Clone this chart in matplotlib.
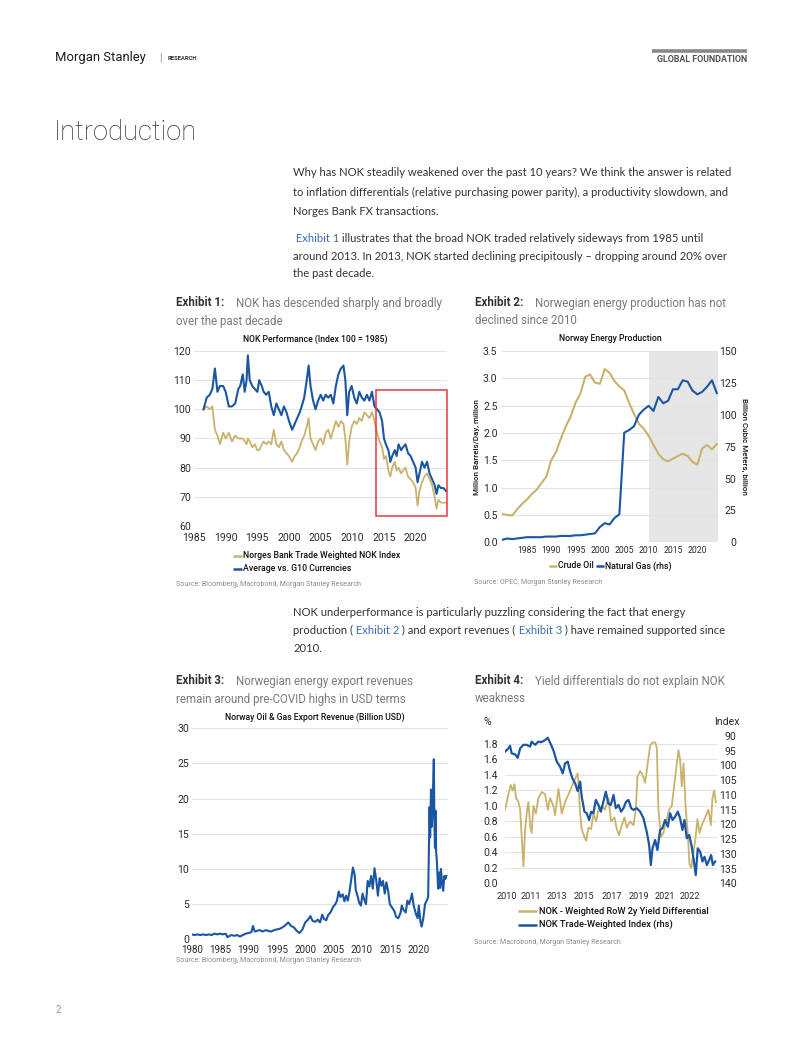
import matplotlib
matplotlib.use("Agg")
import matplotlib.pyplot as plt
from matplotlib import font_manager
from matplotlib.lines import Line2D
from matplotlib.patches import Rectangle

# ---------------- data ----------------
# Exhibit 1: NOK performance (index 100 = 1985)
ex1_years = [1986.5, 1987.0, 1987.5, 1987.9, 1988.3, 1988.7, 1989.1, 1989.6, 1990.0, 1990.5,
             1991.0, 1991.5, 1992.0, 1992.3, 1992.7, 1993.0, 1993.3, 1993.5, 1993.8, 1994.2,
             1994.6, 1995.0, 1995.3, 1995.7, 1996.0, 1996.4, 1996.8, 1997.2, 1997.6, 1998.0,
             1998.4, 1998.8, 1999.2, 1999.6, 2000.0, 2000.5, 2000.9, 2001.3, 2001.7, 2002.0,
             2002.4, 2002.8, 2003.1, 2003.4, 2003.8, 2004.2, 2004.6, 2005.0, 2005.4, 2005.8,
             2006.2, 2006.6, 2007.0, 2007.4, 2007.8, 2008.2, 2008.6, 2008.9, 2009.2, 2009.5,
             2009.9, 2010.3, 2010.7, 2011.1, 2011.5, 2011.9, 2012.3, 2012.7, 2013.1, 2013.5,
             2013.9, 2014.3, 2014.7, 2015.0, 2015.3, 2015.7, 2016.0, 2016.3, 2016.7, 2017.0,
             2017.3, 2017.7, 2018.0, 2018.4, 2018.8, 2019.2, 2019.6, 2020.0, 2020.3, 2020.6,
             2021.0, 2021.4, 2021.8, 2022.2, 2022.6, 2023.0, 2023.3, 2023.6, 2024.0, 2024.4,
             2024.8]
ex1_twi = [100, 101, 100, 101, 93, 91, 88, 92, 90, 92,
           89, 91, 90, 90, 90, 89, 88, 90, 89, 87,
           88, 86, 86, 88, 89, 88, 89, 88, 93, 88,
           87, 89, 86, 85, 84, 82, 84, 85, 87, 89,
           91, 94, 97, 90, 88, 86, 89, 90, 88, 92,
           93, 90, 93, 96, 94, 96, 95, 90, 81, 89,
           94, 96, 95, 97, 96, 99, 98, 97, 99, 96,
           92, 89, 87, 83, 84, 79, 77, 80, 82, 79,
           80, 78, 79, 80, 77, 76, 75, 73, 67, 72,
           75, 77, 78, 76, 74, 70, 66, 69, 68, 68, 68]
ex1_g10 = [100, 104, 105, 107, 114, 106, 108, 108, 106, 101,
           101, 102, 107, 108, 112, 106, 110, 118.5, 110, 108,
           107, 106, 110, 108, 106, 105, 106, 101, 98, 102,
           100, 98, 101, 99, 96, 93, 95, 97, 99, 101,
           104, 110, 115, 108, 103, 100, 103, 105, 103, 105,
           104, 105, 102, 108, 112, 114, 115, 110, 98, 106,
           108, 104, 102, 106, 104, 103, 105, 103, 106, 101,
           100, 99, 96, 90, 88, 86, 82, 84, 86, 84,
           88, 86, 87, 88, 85, 84, 82, 80, 75, 78,
           82, 80, 82, 78, 76, 74, 71, 74, 73, 73, 72]
ex1_xticks = [1985, 1990, 1995, 2000, 2005, 2010, 2015, 2020]
ex1_yticks = [60, 70, 80, 90, 100, 110, 120]

# Exhibit 2: Norway energy production
ex2_years = list(range(1980, 2025))
ex2_oil = [0.52, 0.50, 0.49, 0.60, 0.70, 0.78, 0.88, 0.96, 1.08, 1.20,
           1.50, 1.65, 1.90, 2.12, 2.30, 2.55, 2.72, 3.03, 3.07, 2.92,
           2.90, 3.17, 3.10, 2.95, 2.85, 2.78, 2.55, 2.35, 2.17, 2.08,
           1.95, 1.78, 1.62, 1.52, 1.48, 1.53, 1.58, 1.62, 1.58, 1.47,
           1.42, 1.72, 1.78, 1.70, 1.80]
ex2_gas = [2, 3, 2.5, 3, 3.5, 4, 4, 4, 4, 4.5,
           4.5, 4.5, 5, 5, 5, 5.5, 5.5, 6, 6.5, 7,
           12, 15, 14, 19, 22, 86, 88, 91, 100, 104,
           107, 103, 114, 109, 111, 120, 120, 127, 126, 119,
           116, 118, 122, 127, 117]
ex2_xticks = [1985, 1990, 1995, 2000, 2005, 2010, 2015, 2020]
ex2_shade = (2010, 2024.3)

# Exhibit 3: Norway oil & gas export revenue (bn USD)
ex3_years = [1980.0, 1980.5, 1981.0, 1981.5, 1982.0, 1982.5, 1983.0, 1983.5, 1984.0, 1984.5,
             1985.0, 1985.5, 1986.0, 1986.3, 1986.7, 1987.0, 1987.5, 1988.0, 1988.5, 1989.0,
             1989.5, 1990.0, 1990.5, 1990.8, 1991.1, 1991.5, 1992.0, 1992.5, 1993.0, 1993.5,
             1994.0, 1994.5, 1995.0, 1995.5, 1996.0, 1996.5, 1997.0, 1997.5, 1998.0, 1998.5,
             1999.0, 1999.5, 2000.0, 2000.5, 2000.9, 2001.3, 2001.8, 2002.2, 2002.6, 2003.0,
             2003.3, 2003.7, 2004.0, 2004.5, 2004.9, 2005.3, 2005.6, 2005.9, 2006.2, 2006.6,
             2006.9, 2007.2, 2007.5, 2007.8, 2008.1, 2008.4, 2008.7, 2008.9, 2009.2, 2009.5,
             2009.8, 2010.1, 2010.4, 2010.7, 2011.0, 2011.3, 2011.6, 2011.9, 2012.2, 2012.5,
             2012.8, 2013.1, 2013.4, 2013.7, 2014.0, 2014.3, 2014.6, 2014.9, 2015.3, 2015.7,
             2016.0, 2016.4, 2016.8, 2017.0, 2017.3, 2017.7, 2018.0, 2018.3, 2018.6, 2018.8,
             2019.1, 2019.5, 2019.8, 2020.0, 2020.3, 2020.5, 2020.8, 2021.1, 2021.4, 2021.65,
             2021.8, 2021.9, 2022.0, 2022.15, 2022.3, 2022.45, 2022.65, 2022.75, 2022.85, 2022.95,
             2023.05, 2023.2, 2023.4, 2023.6, 2023.75, 2023.9, 2024.1, 2024.3, 2024.5, 2024.7,
             2024.85]
ex3_revenue = [0.7, 0.6, 0.7, 0.6, 0.7, 0.6, 0.7, 0.6, 0.8, 0.7,
               0.8, 0.7, 0.8, 0.3, 0.5, 0.6, 0.5, 0.6, 0.4, 0.6,
               0.8, 0.9, 1.0, 1.9, 1.1, 1.2, 1.3, 1.1, 1.3, 1.2,
               1.1, 1.3, 1.4, 1.5, 1.7, 2.0, 2.4, 1.9, 1.7, 1.2,
               0.9, 1.4, 2.4, 2.8, 3.3, 2.6, 2.5, 2.8, 2.4, 3.5,
               2.9, 2.7, 3.4, 3.9, 4.6, 5.0, 5.5, 6.8, 6.0, 6.4,
               5.4, 6.2, 5.5, 6.8, 8.5, 10.2, 9.2, 7.0, 6.2, 5.2,
               4.8, 6.5, 5.6, 5.0, 8.3, 7.5, 9.0, 7.2, 10.1, 8.5,
               6.2, 8.7, 7.6, 8.3, 6.5, 8.1, 6.9, 5.0, 4.5, 4.0,
               3.2, 3.0, 3.8, 4.8, 4.2, 3.8, 5.5, 5.0, 5.8, 6.5,
               4.8, 3.6, 3.0, 4.8, 2.5, 1.8, 3.0, 5.0, 5.5, 6.0,
               14.0, 18.8, 14.5, 21.3, 16.0, 19.5, 25.6, 17.0, 13.0, 18.3,
               12.5, 11.0, 7.2, 9.5, 7.3, 10.0, 8.0, 6.9, 9.0, 8.6,
               9.0]
ex3_xticks = [1980, 1985, 1990, 1995, 2000, 2005, 2010, 2015, 2020]

# Exhibit 4: yield differential vs NOK TWI (rhs, inverted)
ex4_yield_t = [2009.88, 2010.12, 2010.28, 2010.42, 2010.54, 2010.65, 2010.82, 2010.94, 2011.05, 2011.17,
               2011.29, 2011.43, 2011.52, 2011.64, 2011.75, 2011.87, 2012.04, 2012.22, 2012.46, 2012.69,
               2012.88, 2013.04, 2013.27, 2013.39, 2013.63, 2013.86, 2014.09, 2014.33, 2014.56, 2014.80,
               2014.98, 2015.15, 2015.26, 2015.45, 2015.57, 2015.73, 2015.92, 2016.08, 2016.27, 2016.43,
               2016.67, 2016.90, 2017.13, 2017.32, 2017.56, 2017.72, 2017.88, 2018.07, 2018.26, 2018.42,
               2018.65, 2018.89, 2019.05, 2019.17, 2019.36, 2019.52, 2019.71, 2019.89, 2020.06, 2020.22,
               2020.41, 2020.53, 2020.64, 2020.83, 2020.99, 2021.18, 2021.39, 2021.58, 2021.77, 2021.93,
               2022.05, 2022.16, 2022.28, 2022.40, 2022.56, 2022.70, 2022.82, 2022.94, 2023.10, 2023.22,
               2023.38, 2023.52, 2023.68, 2023.92, 2024.15, 2024.32, 2024.43, 2024.55, 2024.67]
ex4_yield = [0.95, 1.15, 1.27, 1.20, 1.28, 1.10, 1.05, 0.95, 0.60, 0.22,
             0.70, 0.95, 1.05, 0.75, 0.65, 1.00, 0.90, 1.10, 1.18, 1.15,
             0.95, 1.10, 1.00, 0.88, 1.22, 0.90, 1.05, 1.15, 1.25, 1.35,
             1.42, 0.90, 0.70, 0.60, 0.55, 0.72, 0.70, 0.90, 0.80, 0.95,
             1.00, 0.95, 1.10, 0.80, 0.85, 0.70, 0.62, 0.75, 0.85, 0.72,
             0.80, 0.75, 0.95, 1.38, 1.45, 1.40, 1.30, 1.55, 1.78, 1.82,
             1.82, 1.75, 0.95, 0.60, 0.65, 0.80, 0.95, 1.00, 1.30, 1.55,
             1.72, 1.60, 1.25, 1.55, 0.95, 0.65, 0.25, 0.20, 0.40, 0.55,
             0.83, 0.65, 0.75, 0.85, 0.95, 0.75, 1.10, 1.20, 1.05]
ex4_twi_t = [2009.88, 2010.12, 2010.23, 2010.35, 2010.58, 2010.77, 2010.94, 2011.17, 2011.40, 2011.64,
             2011.75, 2011.99, 2012.22, 2012.41, 2012.69, 2012.88, 2013.11, 2013.27, 2013.51, 2013.74,
             2013.93, 2014.09, 2014.28, 2014.44, 2014.61, 2014.80, 2014.98, 2015.15, 2015.26, 2015.45,
             2015.61, 2015.78, 2015.92, 2016.08, 2016.25, 2016.43, 2016.60, 2016.78, 2016.95, 2017.13,
             2017.30, 2017.49, 2017.65, 2017.84, 2018.02, 2018.19, 2018.37, 2018.54, 2018.73, 2018.89,
             2019.12, 2019.36, 2019.59, 2019.82, 2019.99, 2020.11, 2020.22, 2020.41, 2020.57, 2020.76,
             2020.92, 2021.11, 2021.30, 2021.46, 2021.63, 2021.81, 2022.00, 2022.16, 2022.33, 2022.47,
             2022.63, 2022.80, 2022.98, 2023.10, 2023.26, 2023.40, 2023.57, 2023.73, 2023.87, 2024.04,
             2024.20, 2024.34, 2024.46, 2024.62]
ex4_twi = [95.3, 94.2, 93.3, 95.9, 96.2, 97.4, 94.2, 93.0, 93.0, 93.6,
           91.9, 93.0, 91.9, 92.1, 91.4, 90.6, 93.0, 94.8, 98.7, 100.4,
           102.7, 99.3, 98.7, 101.9, 104.4, 106.1, 108.7, 105.5, 110.6, 115.7,
           116.2, 118.5, 115.7, 116.2, 111.7, 113.4, 115.7, 112.3, 108.9, 112.9,
           113.4, 110.0, 114.5, 113.4, 115.7, 114.5, 112.3, 111.7, 114.5, 115.1,
           114.5, 115.7, 117.9, 122.5, 127.0, 133.8, 128.2, 125.3, 128.7, 121.9,
           121.3, 118.5, 120.8, 116.2, 118.5, 117.4, 115.7, 117.9, 121.9, 118.5,
           124.7, 123.6, 127.6, 131.5, 137.2, 128.1, 129.3, 132.6, 131.0, 133.8,
           132.1, 130.4, 133.8, 132.6]
ex4_xtick_pos = [2010.0, 2011.71, 2013.51, 2015.38, 2017.37, 2019.24, 2021.11, 2022.87]
ex4_xtick_lab = ["2010", "2011", "2013", "2015", "2017", "2019", "2021", "2022"]

# ---------------- styling ----------------
W, H = 802, 1037
GOLD = "#C9B36C"
BLUE = "#1B56A3"
LINK = "#3C6DB4"
GRID = "#E3E3E3"
DARK = "#2B2B2B"
GREY = "#7A7A7A"

names = {f.name for f in font_manager.fontManager.ttflist}
BODY = "Lato" if "Lato" in names else "Open Sans"

plt.rcParams["font.family"] = ["Roboto", "DejaVu Sans"]

fig = plt.figure(figsize=(W / 100, H / 100), dpi=100)


def px_axes(left, top, right, bottom):
    return fig.add_axes([left / W, 1 - bottom / H, (right - left) / W, (bottom - top) / H])


def px_text(x, y, s, **kw):
    return fig.text(x / W, 1 - y / H, s, **kw)


def px_line(x0, x1, y, color, lw):
    fig.add_artist(Line2D([x0 / W, x1 / W], [1 - y / H, 1 - y / H], color=color, lw=lw,
                          solid_capstyle="butt"))


def style_axes(ax, xpad, ypad, xsize=7.6):
    for sp in ax.spines.values():
        sp.set_visible(False)
    ax.tick_params(length=0, labelsize=7.6, colors=DARK)
    ax.tick_params(axis="x", pad=xpad, labelsize=xsize)
    ax.tick_params(axis="y", pad=ypad)
    ax.grid(axis="y", color=GRID, lw=0.8)
    ax.set_axisbelow(True)
    ax.patch.set_alpha(0)


renderer = fig.canvas.get_renderer()


def rich_line(x, y, parts, size=8.1):
    for s, color in parts:
        t = px_text(x, y, s, color=color, fontsize=size, family=BODY, va="center")
        x = t.get_window_extent(renderer).x1


# ---------------- page header ----------------
px_text(55, 58, "Morgan Stanley", fontsize=9.4, color="#1a1a1a", va="center")
px_text(159, 57.5, "|", fontsize=7.5, color="#888", va="center")
px_text(168, 58.5, "RESEARCH", fontsize=4.2, weight="bold", color="#333", va="center")
px_line(652, 747, 50.5, "#8a8a8a", 2.6)
px_text(747, 59, "GLOBAL FOUNDATION", fontsize=6.4, weight="bold",
        color="#555", ha="right", va="center")
px_text(54, 133, "Introduction", fontsize=19.7, weight="light", color="#333", va="center")

# ---------------- body text ----------------
DK = "#333333"
rich_line(293, 173, [("Why has NOK steadily weakened over the past 10 years? We think the answer is related", DK)])
rich_line(293, 192, [("to inflation differentials (relative purchasing power parity), a productivity slowdown, and", DK)])
rich_line(293, 211, [("Norges Bank FX transactions.", DK)])
rich_line(293, 238, [(" Exhibit 1", LINK), (" illustrates that the broad NOK traded relatively sideways from 1985 until", DK)])
rich_line(293, 256, [("around 2013. In 2013, NOK started declining precipitously \u2013 dropping around 20% over", DK)])
rich_line(293, 274, [("the past decade.", DK)])
rich_line(293, 612, [("NOK underperformance is particularly puzzling considering the fact that energy", DK)])
rich_line(293, 630, [("production (", DK), (" Exhibit 2", LINK), (" ) and export revenues (", DK),
                     (" Exhibit 3", LINK), (" ) have remained supported since", DK)])
rich_line(293, 648, [("2010.", DK)])


def exhibit_title(x, x2, y, label, lines):
    px_text(x, y, label, fontsize=8.3, weight="bold", color="#333", va="center")
    px_text(x2, y, lines[0], fontsize=8.3, color=GREY, va="center")
    if len(lines) > 1:
        px_text(x, y + 18, lines[1], fontsize=8.3, color=GREY, va="center")


exhibit_title(176, 236, 303, "Exhibit 1:", ["NOK has descended sharply and broadly", "over the past decade"])
exhibit_title(475, 535, 303, "Exhibit 2:", ["Norwegian energy production has not", "declined since 2010"])
exhibit_title(176, 236, 681, "Exhibit 3:", ["Norwegian energy export revenues", "remain around pre-COVID highs in USD terms"])
exhibit_title(475, 535, 681, "Exhibit 4:", ["Yield differentials do not explain NOK", "weakness"])

SRC = dict(fontsize=5.1, color="#8a8a8a", va="center")
px_text(176, 585, "Source: Bloomberg, Macrobond, Morgan Stanley Research", **SRC)
px_text(474, 582, "Source: OPEC, Morgan Stanley Research", **SRC)
px_text(176, 961, "Source: Bloomberg, Macrobond, Morgan Stanley Research", **SRC)
px_text(474, 942, "Source: Macrobond, Morgan Stanley Research", **SRC)
px_text(56, 1010, "2", fontsize=7, color="#999", va="center")

CT = dict(fontsize=6.2, weight="medium", color="#111", ha="center", va="center")
LG = dict(fontsize=6.3, weight="medium", color="#111", va="center")

# ---------------- Exhibit 1 ----------------
ax1 = px_axes(194, 351, 447, 526)
ax1.plot(ex1_years, ex1_twi, color=GOLD, lw=1.3)
ax1.plot(ex1_years, ex1_g10, color=BLUE, lw=1.5)
ax1.set_xlim(1985, 2024.95)
ax1.set_ylim(60, 120)
ax1.set_xticks(ex1_xticks)
ax1.set_yticks(ex1_yticks)
style_axes(ax1, 5, 2)
ax1.add_patch(Rectangle((2013.7, 63.4), 2024.95 - 2013.7, 106.6 - 63.4, fill=False,
                        ec="#E8383D", lw=1.1, clip_on=False, zorder=5))
px_text(315, 339, "NOK Performance (Index 100 = 1985)", **CT)
px_line(233, 242, 555.5, GOLD, 1.8)
px_text(243, 555.5, "Norges Bank Trade Weighted NOK Index", **LG)
px_line(233, 242, 568.5, BLUE, 1.8)
px_text(243, 568.5, "Average vs. G10 Currencies", **LG)

# ---------------- Exhibit 2 ----------------
ax2 = px_axes(502.4, 351, 718.3, 542.3)
ax2.axvspan(*ex2_shade, color="#E6E6E6", lw=0, zorder=0)
ax2.plot(ex2_years, ex2_oil, color=GOLD, lw=1.5)
ax2.set_xlim(1980, 2024.3)
ax2.set_ylim(0, 3.5)
ax2.set_xticks(ex2_xticks)
ax2.set_yticks([0, 0.5, 1.0, 1.5, 2.0, 2.5, 3.0, 3.5])
ax2.yaxis.set_major_formatter(matplotlib.ticker.FormatStrFormatter("%.1f"))
style_axes(ax2, 2.5, 3.5, xsize=6.2)
ax2.set_ylabel("Million Barrels/Day, million", fontsize=5.8, weight="medium", color="#111", labelpad=2)
ax2r = ax2.twinx()
ax2r.plot(ex2_years, ex2_gas, color=BLUE, lw=1.5)
ax2r.set_ylim(0, 150)
ax2r.set_yticks([0, 25, 50, 75, 100, 125, 150])
for sp in ax2r.spines.values():
    sp.set_visible(False)
ax2r.tick_params(length=0, labelsize=7.6, colors=DARK, pad=13)
for lbl in ax2r.get_yticklabels():
    lbl.set_horizontalalignment("right")
ax2r.set_ylabel("Billion Cubic Meters, billion", fontsize=5.8, weight="medium", color="#111",
                rotation=270, labelpad=8)
px_text(610, 338, "Norway Energy Production", **CT)
px_line(549, 557, 566, GOLD, 1.8)
px_text(558, 566, "Crude Oil", **LG)
px_line(596, 604, 566, BLUE, 1.8)
px_text(605, 566, "Natural Gas (rhs)", **LG)

# ---------------- Exhibit 3 ----------------
ax3 = px_axes(191.7, 728.3, 448.3, 939.3)
ax3.plot(ex3_years, ex3_revenue, color=BLUE, lw=1.5)
ax3.set_xlim(1980, 2025.2)
ax3.set_ylim(0, 30)
ax3.set_xticks(ex3_xticks)
ax3.set_yticks([0, 5, 10, 15, 20, 25, 30])
style_axes(ax3, 3.8, 2, xsize=7.1)
px_text(315, 717, "Norway Oil & Gas Export Revenue (Billion USD)", **CT)

# ---------------- Exhibit 4 ----------------
ax4 = px_axes(504.6, 728.5, 717, 883.3)
ax4.plot(ex4_yield_t, ex4_yield, color=GOLD, lw=1.3)
ax4.set_xlim(2009.85, 2024.75)
ax4.set_ylim(0, 2.0)
ax4.set_yticks([0, 0.2, 0.4, 0.6, 0.8, 1.0, 1.2, 1.4, 1.6, 1.8])
ax4.yaxis.set_major_formatter(matplotlib.ticker.FormatStrFormatter("%.1f"))
ax4.set_xticks(ex4_xtick_pos)
ax4.set_xticklabels(ex4_xtick_lab)
style_axes(ax4, 6, 5, xsize=6.6)
ax4r = ax4.twinx()
ax4r.plot(ex4_twi_t, ex4_twi, color=BLUE, lw=1.6)
ax4r.set_ylim(140, 87.45)
ax4r.set_yticks([90, 95, 100, 105, 110, 115, 120, 125, 130, 135, 140])
for sp in ax4r.spines.values():
    sp.set_visible(False)
ax4r.tick_params(length=0, labelsize=7.6, colors=DARK, pad=14)
for lbl in ax4r.get_yticklabels():
    lbl.set_horizontalalignment("right")
px_text(487, 722, "%", fontsize=7.6, color=DARK, ha="center", va="center")
px_text(727, 722, "Index", fontsize=7.6, color=DARK, ha="center", va="center")
LG4 = dict(LG, fontsize=6.7)
px_line(518, 537, 911, GOLD, 1.8)
px_text(539, 911, "NOK - Weighted RoW 2y Yield Differential", **LG4)
px_line(518, 537, 924.5, BLUE, 1.8)
px_text(539, 924.5, "NOK Trade-Weighted Index (rhs)", **LG4)

fig.savefig("out.png", dpi=100)
